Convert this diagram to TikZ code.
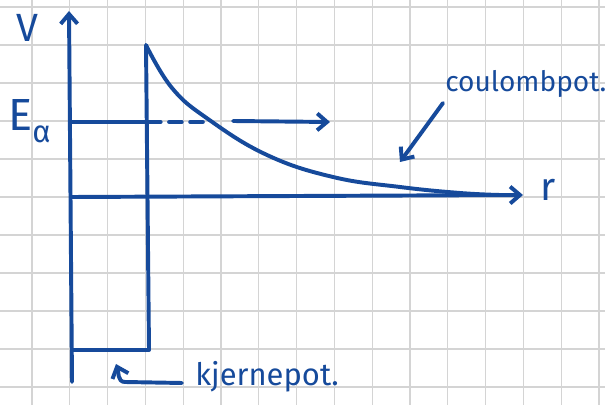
\documentclass[tikz,border=0pt]{standalone}
\usepackage{fontspec}
\setmainfont{Fira Sans}
\usetikzlibrary{arrows.meta}
\definecolor{ink}{RGB}{22,74,155}

\begin{document}
\begin{tikzpicture}[x=0.025cm,y=-0.025cm,
  pen/.style={ink,line width=2.8pt,line cap=round,line join=round},
  tip/.style={-{Straight Barb[length=7pt,width=12pt]}},
  gridline/.style={black!17,line width=0.9pt},
  lbl/.style={ink,inner sep=0pt}]
\useasboundingbox (0,0) rectangle (605,405);
% squared paper
\foreach \gx in {0,...,15} \draw[gridline] ({32+37.8*\gx},0) -- ++(0,405);
\foreach \gy in {0,...,10} \draw[gridline] (0,{7+38*\gy}) -- ++(605,0);
% axes
\coordinate (vbot) at (72,382);
\coordinate (vtop) at (69,11);
\coordinate (o) at (72,197);
\coordinate (rend) at (523,195);
\draw[pen,tip] (vbot) -- (vtop);
\draw[pen,tip] (o) -- (rend);
% well and wall
\coordinate (wl) at (73,350);
\coordinate (wbot) at (149,350);
\coordinate (wtop) at (146,45);
\draw[pen] (wl) -- (wbot) -- (wtop);
% coulomb tail
\coordinate (cend) at (500,195);
\draw[pen] plot[smooth,tension=0.7] coordinates {(wtop) (172,88) (208,119) (267,155) (333,177) (400,187) (460,193) (cend)};
% energy level
\coordinate (e0) at (72,122);
\coordinate (e1) at (148,122);
\coordinate (e2) at (210,122);
\coordinate (e3) at (233,121);
\coordinate (e4) at (330,122);
\draw[pen] (e0) -- (e1);
\draw[pen,dash pattern=on 9pt off 6pt] (e1) -- (e2);
\draw[pen,tip] (e3) -- (e4);
% labels
\node[lbl,font=\fontsize{28}{30}\selectfont] (v) at (27,28) {V};
\node[lbl,font=\fontsize{32}{34}\selectfont,anchor=base west] (ea) at (8,131) {E\raisebox{-0.5ex}{\fontsize{22}{24}\selectfont α}};
\node[lbl,font=\fontsize{28}{30}\selectfont] (r) at (548,190) {r};
\node[lbl,font=\fontsize{20}{22}\selectfont,anchor=base west] (cp) at (445,92) {coulombpot.};
\node[lbl,font=\fontsize{22}{24}\selectfont,anchor=base west] (kp) at (195,386) {kjernepot.};
% pointers
\coordinate (ct) at (443,103);
\coordinate (ch) at (400,162);
\draw[pen,tip] (ct) -- (ch);
\coordinate (kt) at (182,383);
\coordinate (kh) at (116,364);
\draw[pen,tip] (kt) -- (125,382) to[out=180,in=-70] (kh);
\end{tikzpicture}
\end{document}
